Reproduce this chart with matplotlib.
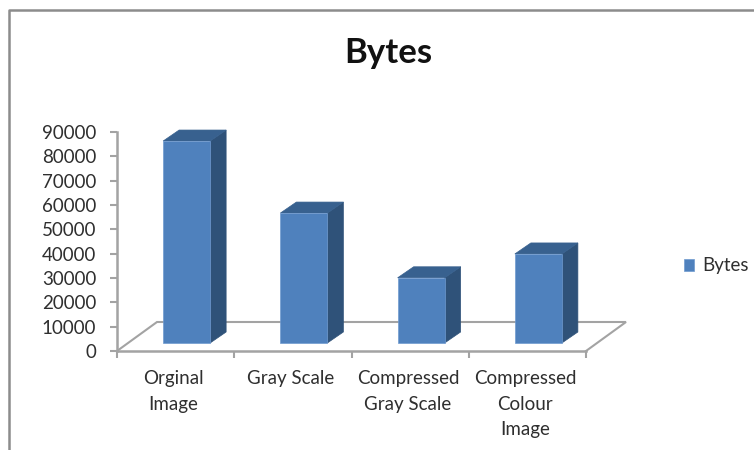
import matplotlib
matplotlib.use('Agg')
import matplotlib.pyplot as plt
from matplotlib.lines import Line2D
from matplotlib.patches import Polygon

categories = ['Orginal\nImage', 'Gray Scale', 'Compressed\nGray Scale', 'Compressed\nColour\nImage']
values = [83000, 53400, 26800, 36600]
yticks = list(range(0, 100000, 10000))

W, H = 754, 450
plt.rcParams['font.family'] = ['Lato', 'DejaVu Sans']
text_col = '#2f2f2f'
grey = '#a3a3a3'
front = '#4f81bd'
side = '#2f5279'
top = '#38618f'

fig = plt.figure(figsize=(W / 100, H / 100), dpi=100)
ax = fig.add_axes([117 / W, 1 - 351 / H, 469 / W, 219 / H])
ax.set_xlim(0, 4)
ax.set_ylim(0, 90000)

# fake 3d offsets, in data units
px_x = 4 / 469
px_y = 90000 / 219
bar_w = 47 * px_x
bar_shift = 11 * px_x
lift = 8 * px_y
dx = 16 * px_x
dy = 11 * px_y

# floor
floor_dx = 40 * px_x
floor_dy = 29 * px_y
ax.plot([0, floor_dx, 4 + floor_dx, 4], [0, floor_dy, floor_dy, 0], color=grey, lw=1.5,
        clip_on=False, zorder=1, solid_joinstyle='miter')

xs = [i + 0.5 + bar_shift for i in range(len(values))]
bars = ax.bar(xs, values, width=bar_w, bottom=lift, color=front, edgecolor='#6f9ad0', linewidth=0.5,
              label='Bytes', zorder=3)
for x, v in zip(xs, values):
    x0 = x - bar_w / 2
    x1 = x + bar_w / 2
    y0 = lift
    y1 = lift + v
    ax.add_patch(Polygon([(x1, y0), (x1 + dx, y0 + dy), (x1 + dx, y1 + dy), (x1, y1)],
                         closed=True, fc=side, ec=side, lw=0.5, zorder=2, clip_on=False))
    ax.add_patch(Polygon([(x0, y1), (x0 + dx, y1 + dy), (x1 + dx, y1 + dy), (x1, y1)],
                         closed=True, fc=top, ec=top, lw=0.5, zorder=2, clip_on=False))

for s in ['top', 'right']:
    ax.spines[s].set_visible(False)
for s in ['left', 'bottom']:
    ax.spines[s].set_color(grey)
    ax.spines[s].set_linewidth(1.8)

ax.set_yticks(yticks)
ax.set_yticklabels([str(t) for t in yticks])
ax.tick_params(axis='y', length=5, width=1.5, color=grey, labelsize=13.5, labelcolor=text_col, pad=10)
ax.set_xticks(range(5))
ax.set_xticklabels([])
ax.tick_params(axis='x', which='major', length=5, width=1.5, color=grey)
ax.set_xticks([i + 0.5 - 2 * px_x for i in range(4)], minor=True)
ax.set_xticklabels(categories, minor=True, fontsize=13.5, color=text_col, linespacing=1.6)
ax.tick_params(axis='x', which='minor', length=0, pad=14)

fig.text(388 / W, 1 - 53 / H, 'Bytes', ha='center', va='center', fontsize=25, fontweight='bold', color='#111111')

fig.legend(handles=[bars], labels=['Bytes'], loc='center left', bbox_to_anchor=(680 / W, 1 - 266 / H),
           frameon=False, fontsize=13.5, handlelength=0.55, handleheight=0.55, handletextpad=0.45,
           labelcolor=text_col, borderpad=0.2, borderaxespad=0)

# outer frame, cropped by the screenshot
fig.add_artist(Line2D([8.5 / W, 8.5 / W, 1], [0, 1 - 10 / H, 1 - 10 / H], color='#8c8c8c', lw=1.8))

fig.savefig('out.png', dpi=100)
